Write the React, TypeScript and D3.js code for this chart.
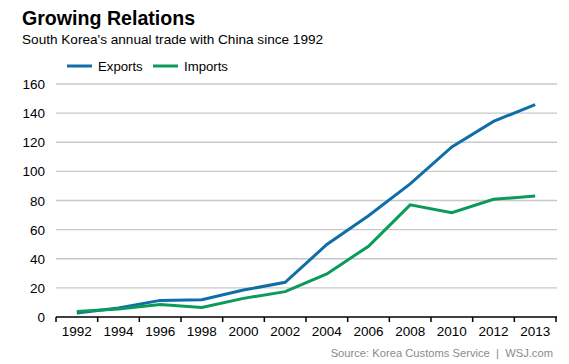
import React from 'react';
import * as d3 from 'd3';

// values in $ billion, one point per label
const years = ['1992', '1994', '1996', '1998', '2000', '2002', '2004', '2006', '2008', '2010', '2012', '2013'];
const exportsVals = [2.7, 6.2, 11.4, 11.9, 18.5, 23.8, 49.8, 69.5, 91.4, 116.8, 134.3, 145.9];
const importsVals = [3.7, 5.5, 8.5, 6.5, 12.8, 17.4, 29.6, 48.6, 77.0, 71.6, 80.8, 83.1];
const yTicks = [0, 20, 40, 60, 80, 100, 120, 140, 160];

const W = 569, H = 364;
const font = '"Liberation Sans", Arial, Helvetica, sans-serif';
const blue = '#0f6ea8';
const green = '#0b9a5a';

export default function App() {
  const x = d3.scaleBand().domain(years).range([56, 556]).padding(0);
  const y = d3.scaleLinear().domain([0, 160]).range([317, 84]);
  const cx = (yr: string) => (x(yr) as number) + x.bandwidth() / 2;

  const line = d3.line<[string, number]>()
    .x(d => cx(d[0]))
    .y(d => y(d[1]));

  const series = [
    { name: 'Exports', color: blue, vals: exportsVals },
    { name: 'Imports', color: green, vals: importsVals },
  ];

  const boundaries = years.map(yr => x(yr) as number).concat([x.range()[1]]);

  return (
    <svg width={W} height={H} style={{ position: 'absolute', left: 0, top: 0, background: '#fff' }} fontFamily={font}>
      <text x={22} y={25} fontSize={19.6} fontWeight="bold" fill="#000">Growing Relations</text>
      <text x={22} y={44} fontSize={13.6} fill="#000">South Korea's annual trade with China since 1992</text>

      {/* legend */}
      {series.map((s, i) => {
        const lx = i === 0 ? 67 : 153;
        return (
          <g key={s.name}>
            <line x1={lx} x2={lx + 25} y1={66} y2={66} stroke={s.color} strokeWidth={3} />
            <text x={lx + 31} y={71} fontSize={13.2} fill="#000">{s.name}</text>
          </g>
        );
      })}

      {/* grid */}
      {yTicks.filter(t => t > 0).map(t => (
        <line key={t} x1={56} x2={557} y1={y(t)} y2={y(t)} stroke="#c8c8c8" strokeWidth={1.3} />
      ))}
      {yTicks.map(t => (
        <text key={'l' + t} x={45} y={y(t) + 5} fontSize={13.5} textAnchor="end" fill="#000">{t}</text>
      ))}

      {/* lines */}
      {series.map(s => (
        <path key={s.name} d={line(years.map((yr, i) => [yr, s.vals[i]]) as [string, number][]) || ''}
          fill="none" stroke={s.color} strokeWidth={3} strokeLinejoin="miter" />
      ))}

      {/* x axis */}
      <line x1={56} x2={557} y1={317} y2={317} stroke="#000" strokeWidth={1.5} />
      {boundaries.map((b, i) => (
        <line key={'t' + i} x1={b} x2={b} y1={317} y2={322} stroke="#000" strokeWidth={1.5} />
      ))}
      {years.map(yr => (
        <text key={'x' + yr} x={cx(yr)} y={336} fontSize={13.5} textAnchor="middle" fill="#000">{yr}</text>
      ))}

      <text x={553} y={357} fontSize={11.2} textAnchor="end" fill="#8a8a8a">{'Source: Korea Customs Service\u00a0\u00a0|\u00a0\u00a0WSJ.com'}</text>
    </svg>
  );
}
